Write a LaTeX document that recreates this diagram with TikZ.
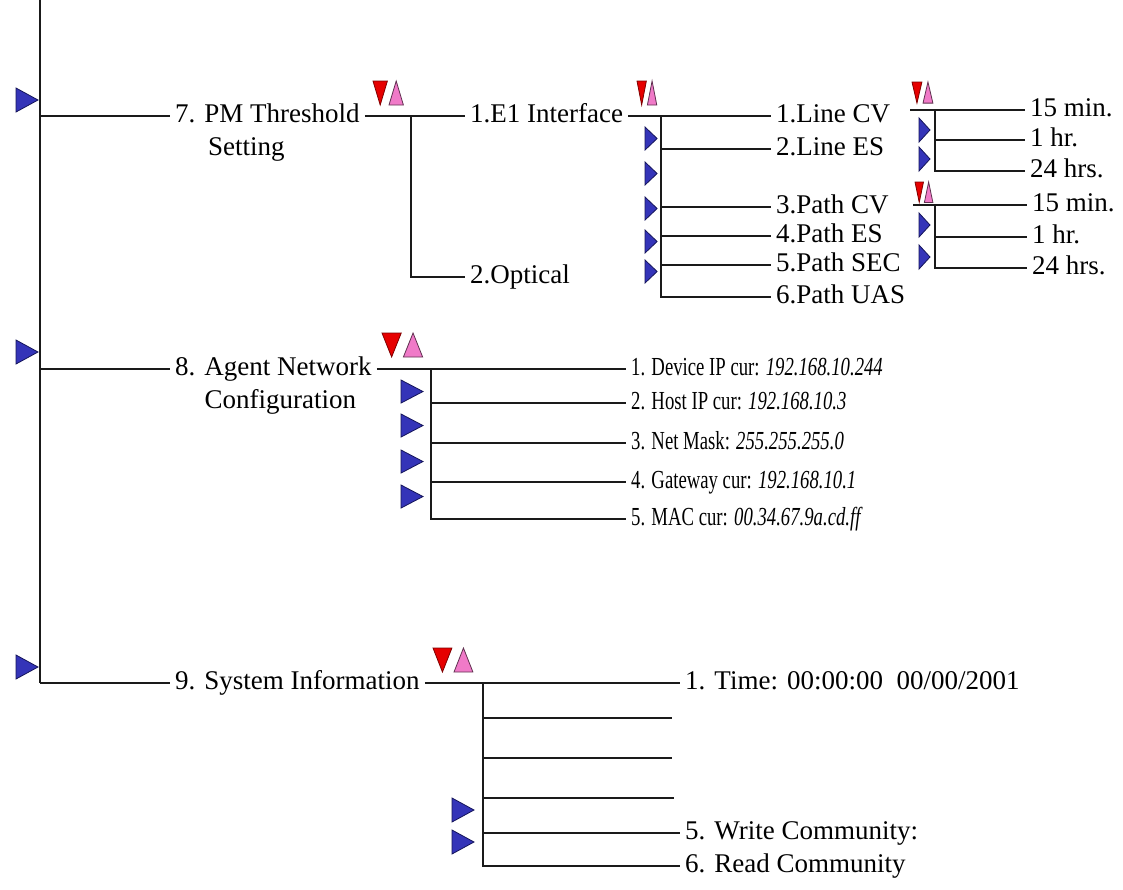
\documentclass[tikz,border=0pt]{standalone}
\usepackage{fontspec}
\setmainfont{Liberation Serif}
\newfontfamily\narrowserif[FakeStretch=0.72]{Liberation Serif}
\usetikzlibrary{positioning}
\definecolor{wireink}{HTML}{1A1A1A}
\definecolor{foldblue}{HTML}{3434B8}
\definecolor{foldedge}{HTML}{15155A}
\definecolor{downred}{HTML}{E60000}
\definecolor{uppink}{HTML}{F07AC8}
\tikzset{wire/.style={draw=wireink,line width=1.6pt},
  lbl/.style={font=\fontsize{27}{30}\selectfont,inner sep=5pt,
    text height=19pt,text depth=6pt},
  ltag/.style={lbl,anchor=west},
  ntag/.style={ltag,font=\fontsize{26}{30}\narrowserif},
  fold/.pic={\filldraw[fill=foldblue,draw=foldedge,line width=0.8pt]
    (0,0) -- (22,12) -- (0,24) -- cycle;},
  updown/.pic={\filldraw[fill=downred,draw=downred!55!black,line width=0.8pt]
    (0,0) -- (18,0) -- (9,24) -- cycle;
    \filldraw[fill=uppink,draw=uppink!40!black,line width=0.8pt]
    (20,24) -- (29,0) -- (38,24) -- cycle;}}

\begin{document}
\begin{tikzpicture}[x=1pt,y=-1pt]
\useasboundingbox (0,0) rectangle (1123,889);
\coordinate (top) at (40,0);
\coordinate (s7) at (40,116);
\coordinate (s8) at (40,369);
\coordinate (s9) at (40,683);
\node[ltag] (pm) at (170,116) {7. PM Threshold};
\node[lbl,below=-2pt of pm,xshift=-21pt] (pmb) {Setting};
\node[ltag] (ag) at (170,369) {8. Agent Network};
\node[lbl,below=-2pt of ag,xshift=7pt] (agb) {Configuration};
\node[ltag] (si) at (170,683) {9. System Information};
\draw[wire] (top) -- (s9);
\draw[wire] (s7) -- (pm.west);
\draw[wire] (s8) -- (ag.west);
\draw[wire] (s9) -- (si.west);
\foreach \y in {88,340,655} \pic at (16,\y) {fold};

\coordinate (j7) at (411,116);
\node[ltag] (e1) at (465,116) {1.E1 Interface};
\node[ltag] (opt) at (465,277) {2.Optical};
\draw[wire] (pm.east) -- (e1.west);
\draw[wire] (j7) |- (opt.west);
\pic[xscale=0.8] at (373,81) {updown};

\coordinate (j71) at (661,116);
\node[ltag] (lcv) at (771,116) {1.Line CV};
\node[ltag] (les) at (771,149) {2.Line ES};
\node[ltag] (pcv) at (771,207) {3.Path CV};
\node[ltag] (pes) at (771,236) {4.Path ES};
\node[ltag] (psec) at (771,265) {5.Path SEC};
\node[ltag] (puas) at (771,297) {6.Path UAS};
\draw[wire] (e1.east) -- (lcv.west);
\draw[wire] (j71) |- (puas.west);
\foreach \n in {les,pcv,pes,psec} \draw[wire] (j71 |- \n.west) -- (\n.west);
\pic[xscale=0.52] at (637,81) {updown};
\foreach \y in {127,162,197,230,260} \pic[xscale=0.55,yscale=0.96] at (645,\y) {fold};

\coordinate (k72) at (910,110);
\coordinate (j72) at (935,110);
\node[ltag] (lcv1) at (1025,110) {15 min.};
\node[ltag] (lcv2) at (1025,140) {1 hr.};
\node[ltag] (lcv3) at (1025,171) {24 hrs.};
\draw[wire] (k72) -- (lcv1.west);
\draw[wire] (j72) |- (lcv3.west);
\draw[wire] (j72 |- lcv2.west) -- (lcv2.west);
\pic[xscale=0.55,yscale=0.88] at (912,82) {updown};
\foreach \y in {118,147} \pic[xscale=0.5] at (919,\y) {fold};

\coordinate (k73) at (913,205);
\coordinate (j73) at (935,205);
\node[ltag] (pcv1) at (1027,205) {15 min.};
\node[ltag] (pcv2) at (1027,237) {1 hr.};
\node[ltag] (pcv3) at (1027,268) {24 hrs.};
\draw[wire] (k73) -- (pcv1.west);
\draw[wire] (j73) |- (pcv3.west);
\draw[wire] (j73 |- pcv2.west) -- (pcv2.west);
\pic[xscale=0.47,yscale=0.85] at (915,182) {updown};
\foreach \y in {213,245} \pic[xscale=0.5] at (919,\y) {fold};

\coordinate (j8) at (431,369);
\node[ntag] (d1) at (626,369) {1. Device IP cur: \textit{192.168.10.244}};
\node[ntag] (d2) at (626,403) {2. Host IP cur: \textit{192.168.10.3}};
\node[ntag] (d3) at (626,443) {3. Net Mask: \textit{255.255.255.0}};
\node[ntag] (d4) at (626,482) {4. Gateway cur: \textit{192.168.10.1}};
\node[ntag] (d5) at (626,519) {5. MAC cur: \textit{00.34.67.9a.cd.ff}};
\draw[wire] (ag.east) -- (d1.west);
\draw[wire] (j8) |- (d5.west);
\foreach \n in {d2,d3,d4} \draw[wire] (j8 |- \n.west) -- (\n.west);
\pic[xscale=1.07] at (382,333) {updown};
\foreach \y in {380,414,450,485} \pic[yscale=0.96] at (401,\y) {fold};

\coordinate (j9) at (483,683);
\node[ltag] (t1) at (680,683) {1. Time: 00:00:00\ \ 00/00/2001};
\coordinate (t2) at (672,718);
\coordinate (t3) at (672,758);
\coordinate (t4) at (674,798);
\node[ltag] (t5) at (680,833) {5. Write Community:};
\node[ltag] (t6) at (680,866) {6. Read Community};
\draw[wire] (si.east) -- (t1.west);
\draw[wire] (j9) |- (t6.west);
\foreach \n in {t2,t3,t4} \draw[wire] (j9 |- \n) -- (\n);
\draw[wire] (j9 |- t5.west) -- (t5.west);
\pic[xscale=1.05] at (433,648) {updown};
\foreach \y in {798,830} \pic at (452,\y) {fold};
\end{tikzpicture}
\end{document}
